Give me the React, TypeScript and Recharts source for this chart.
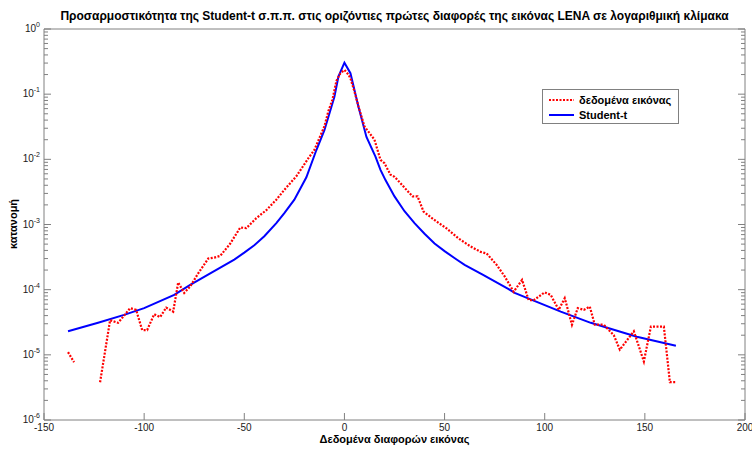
import { LineChart, Line, XAxis, YAxis, Legend } from "recharts";

// x positions of the image-data curve (gap = no samples, log of zero)
const dataX = [
  -138, -135, -130, -122, -117, -113, -110, -107, -104, -101, -98.5, -95, -92, -89, -85.5, -83, -80, -77, -73,
  -68, -65, -62, -57, -52, -49, -44, -39, -34, -30, -24, -18, -15, -10, -8, -6, -4, -2, 0, 2, 3, 5, 7, 10, 15,
  18, 20, 23, 25, 28, 31, 34, 36.5, 39.5, 43, 46, 51, 57, 63, 68, 71, 76, 80, 84.5, 88.7, 92, 94.5, 100, 103,
  107, 110, 113.6, 116.5, 119.5, 122.5, 125, 129.5, 134.5, 137.5, 144.5, 149.5, 153, 159.5, 162.5, 165.5,
];
const dataY = [
  1.1e-5, 7.7e-6, null, 3.8e-6, 3.4e-5, 3.1e-5, 4.0e-5, 5.2e-5, 4.9e-5, 2.4e-5, 2.4e-5, 4.2e-5, 3.8e-5, 5.3e-5,
  4.6e-5, 1.29e-4, 8.9e-5, 1.12e-4, 1.78e-4, 3.0e-4, 3.1e-4, 3.3e-4, 5.1e-4, 9.0e-4, 8.8e-4, 1.25e-3, 1.66e-3,
  2.4e-3, 3.4e-3, 5.5e-3, 1.04e-2, 1.4e-2, 3.2e-2, 5.5e-2, 0.082, 0.16, 0.21, 0.235, 0.2, 0.175, 0.11, 0.065,
  0.032, 0.02, 0.0098, 0.0087, 0.0058, 0.0054, 0.0043, 0.0034, 0.0027, 0.0027, 0.00158, 0.0013, 0.00111,
  0.00087, 0.00061, 0.00046, 0.00038, 0.00036, 0.00024, 0.00016, 9.3e-5, 1.41e-4, 6.9e-5, 6.9e-5, 9.1e-5,
  8.3e-5, 4.9e-5, 7.4e-5, 2.9e-5, 5.2e-5, 4.9e-5, 5.5e-5, 2.9e-5, 2.9e-5, 2.0e-5, 1.2e-5, 2.3e-5, 7.9e-6,
  2.7e-5, 2.7e-5, 3.8e-6, 3.8e-6,
];

// Student-t fit
const fitX = [
  -138, -123, -110, -100, -85, -77, -67, -55, -50, -45, -40, -34, -30, -25, -19, -14, -10, -5, -3, 0, 3, 7, 11,
  15.5, 18, 20.5, 25, 30, 35, 40, 45, 50, 56, 60, 69, 82, 85, 108, 123, 146, 165.5,
];
const fitY = [
  2.3e-5, 3.1e-5, 4.1e-5, 5.2e-5, 8.3e-5, 1.18e-4, 1.78e-4, 2.9e-4, 3.7e-4, 4.8e-4, 6.6e-4, 1.05e-3, 1.5e-3,
  2.4e-3, 5.3e-3, 0.0139, 0.028, 0.091, 0.186, 0.304, 0.21, 0.064, 0.022, 0.011, 0.0069, 0.0048, 0.0027,
  1.6e-3, 1.05e-3, 7.2e-4, 5.1e-4, 3.9e-4, 2.9e-4, 2.4e-4, 1.7e-4, 1.02e-4, 8.9e-5, 4.6e-5, 3.1e-5, 1.9e-5,
  1.38e-5,
];

const xTicks = [-150, -100, -50, 0, 50, 100, 150, 200];
const yMajor = [1e-6, 1e-5, 1e-4, 1e-3, 1e-2, 1e-1, 1];
const yExp = ["-6", "-5", "-4", "-3", "-2", "-1", "0"];

const yTicks: number[] = [];
yMajor.forEach((v, i) => {
  yTicks.push(v);
  if (i < yMajor.length - 1) for (let m = 2; m <= 9; m++) yTicks.push(m * v);
});

const imgData = dataX.map((x, i) => ({ x, y: dataY[i] }));
const fitData = fitX.map((x, i) => ({ x, y: fitY[i] }));

const AX = "#808080";
const TXT = "#1a1a1a";
const FONT = "'Liberation Sans', Arial, Helvetica, sans-serif";
const MAJ = 7;
const MIN = 4;

const majorIndex = (v: number) => yMajor.findIndex((m) => Math.abs(m - v) / m < 1e-6);

const BottomTick = (p: any) => (
  <g>
    <line x1={p.x} x2={p.x} y1={p.y} y2={p.y - MAJ} stroke={AX} />
    <text x={p.x} y={p.y + 11} textAnchor="middle" fontSize={10} fill={TXT} fontFamily={FONT}>
      {p.payload.value}
    </text>
  </g>
);

const TopTick = (p: any) => <line x1={p.x} x2={p.x} y1={p.y} y2={p.y + MAJ} stroke={AX} />;

const LeftTick = (p: any) => {
  const i = majorIndex(p.payload.value);
  return (
    <g>
      <line x1={p.x} x2={p.x + (i >= 0 ? MAJ : MIN)} y1={p.y} y2={p.y} stroke={AX} />
      {i >= 0 && (
        <text x={p.x - 4} y={p.y + 3} textAnchor="end" fontSize={10} fill={TXT} fontFamily={FONT}>
          10
          <tspan dy={-5} fontSize={7}>
            {yExp[i]}
          </tspan>
        </text>
      )}
    </g>
  );
};

const RightTick = (p: any) => {
  const i = majorIndex(p.payload.value);
  return <line x1={p.x} x2={p.x - (i >= 0 ? MAJ : MIN)} y1={p.y} y2={p.y} stroke={AX} />;
};

const LegendBox = () => (
  <div
    style={{
      width: 135,
      height: 33,
      border: `1px solid ${AX}`,
      background: "#fff",
      fontFamily: FONT,
      fontWeight: "bold",
      fontSize: 11,
      color: "#000",
      boxSizing: "content-box",
    }}
  >
    {[
      { name: "δεδομένα εικόνας", color: "#ff0000", dash: "2 1.5" },
      { name: "Student-t", color: "#0000ff", dash: undefined },
    ].map((e, i) => (
      <div key={i} style={{ display: "flex", alignItems: "center", height: 15, marginTop: i === 0 ? 2 : 0 }}>
        <svg width={36} height={15}>
          <line x1={6} x2={31} y1={8} y2={8} stroke={e.color} strokeWidth={2} strokeDasharray={e.dash} />
        </svg>
        <span>{e.name}</span>
      </div>
    ))}
  </div>
);

export default function App() {
  return (
    <div style={{ position: "absolute", left: 0, top: 0, width: 752, height: 450, background: "#fff", fontFamily: FONT }}>
      <div
        style={{
          position: "absolute",
          left: 0,
          width: 789,
          top: 9,
          textAlign: "center",
          fontSize: 12,
          fontWeight: "bold",
          color: "#000",
          whiteSpace: "nowrap",
        }}
      >
        Προσαρμοστικότητα της Student-t σ.π.π. στις οριζόντιες πρώτες διαφορές της εικόνας LENA σε λογαριθμική κλίμακα
      </div>
      <LineChart width={752} height={450} margin={{ top: 0, right: 0, bottom: 0, left: 0 }}>
        <XAxis
          xAxisId="b"
          dataKey="x"
          type="number"
          domain={[-150, 200]}
          ticks={xTicks}
          interval={0}
          height={30}
          tickSize={0}
          tickMargin={0}
          tickLine={false}
          axisLine={{ stroke: AX }}
          tick={BottomTick}
          allowDataOverflow
        />
        <XAxis
          xAxisId="t"
          orientation="top"
          type="number"
          domain={[-150, 200]}
          ticks={xTicks}
          interval={0}
          height={29}
          tickSize={0}
          tickMargin={0}
          tickLine={false}
          axisLine={{ stroke: AX }}
          tick={TopTick}
          allowDataOverflow
        />
        <YAxis
          yAxisId="l"
          type="number"
          scale="log"
          domain={[1e-6, 1]}
          ticks={yTicks}
          interval={0}
          width={44}
          tickSize={0}
          tickMargin={0}
          tickLine={false}
          axisLine={{ stroke: AX }}
          tick={LeftTick}
          allowDataOverflow
        />
        <YAxis
          yAxisId="r"
          orientation="right"
          type="number"
          scale="log"
          domain={[1e-6, 1]}
          ticks={yTicks}
          interval={0}
          width={7}
          tickSize={0}
          tickMargin={0}
          tickLine={false}
          axisLine={{ stroke: AX }}
          tick={RightTick}
          allowDataOverflow
        />
        <Legend
          layout="vertical"
          align="center"
          verticalAlign="middle"
          wrapperStyle={{ left: 542, top: 89, width: 137, height: 35 }}
          content={LegendBox}
        />
        <Line
          xAxisId="b"
          yAxisId="l"
          data={fitData}
          dataKey="y"
          name="Student-t"
          type="linear"
          stroke="#0000ff"
          strokeWidth={2}
          dot={false}
          isAnimationActive={false}
        />
        <Line
          xAxisId="b"
          yAxisId="l"
          data={imgData}
          dataKey="y"
          name="δεδομένα εικόνας"
          type="linear"
          stroke="#ff0000"
          strokeWidth={2.2}
          strokeDasharray="2 1.5"
          dot={false}
          connectNulls={false}
          isAnimationActive={false}
        />
      </LineChart>
      <div
        style={{
          position: "absolute",
          left: 44,
          width: 701,
          top: 433,
          textAlign: "center",
          fontSize: 11,
          fontWeight: "bold",
          color: "#000",
        }}
      >
        Δεδομένα διαφορών εικόνας
      </div>
      <div
        style={{
          position: "absolute",
          left: 13,
          top: 224,
          transform: "translate(-50%, -50%) rotate(-90deg)",
          fontSize: 11,
          fontWeight: "bold",
          color: "#000",
          whiteSpace: "nowrap",
        }}
      >
        κατανομή
      </div>
    </div>
  );
}
